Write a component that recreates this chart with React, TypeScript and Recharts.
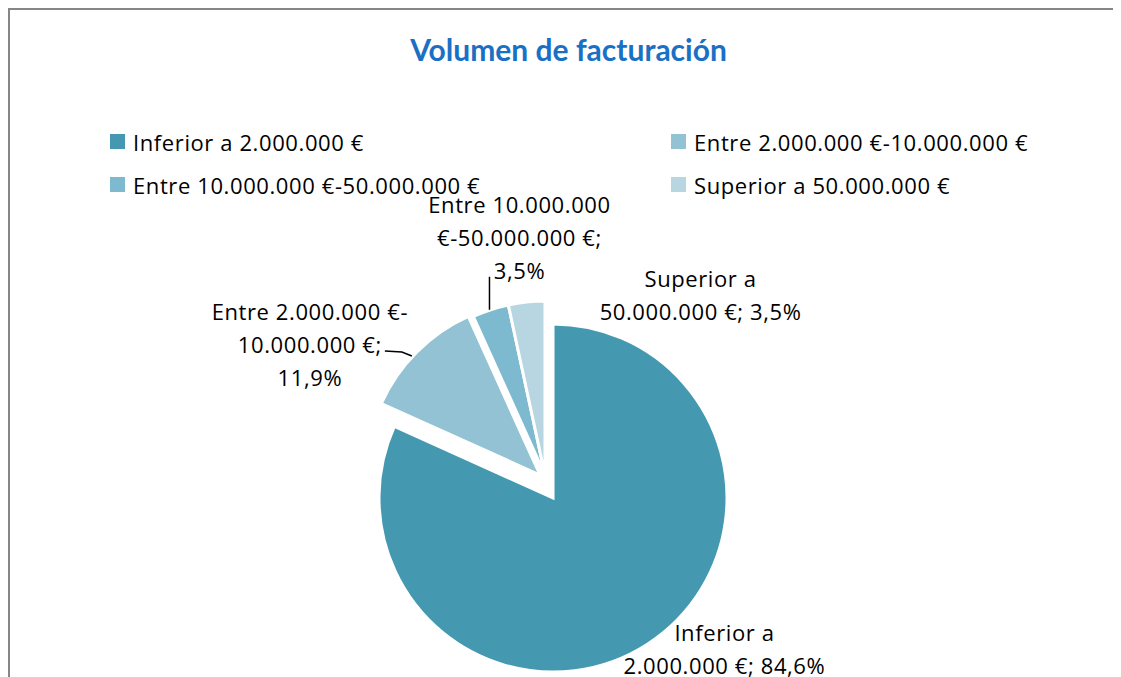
import { PieChart, Pie, Cell, Legend } from 'recharts';

// Volumen de facturación — share of companies by turnover band
const categories = [
  'Inferior a 2.000.000 €',
  'Entre 2.000.000 €-10.000.000 €',
  'Entre 10.000.000 €-50.000.000 €',
  'Superior a 50.000.000 €',
];
const shares = [84.6, 11.9, 3.5, 3.5];
const sliceColors = ['#4499b0', '#93c2d4', '#7db9cf', '#b7d6e2'];
const dataLabels = [
  ['Inferior a', '2.000.000 €; 84,6%'],
  ['Entre 2.000.000 €-', '10.000.000 €;', '11,9%'],
  ['Entre 10.000.000', '€-50.000.000 €;', '3,5%'],
  ['Superior a', '50.000.000 €; 3,5%'],
];

const WIDTH = 1111;
const HEIGHT = 667;
const RADIUS = 174;
// each slice gets its own centre, the first one is pulled out like in the original
const sliceCenters = [
  { x: 543, y: 488 },
  { x: 530, y: 465 },
  { x: 535, y: 465 },
  { x: 535, y: 465 },
];
const FONT = '"Open Sans", sans-serif';
const LINE_H = 33;
const RADIAN = Math.PI / 180;

// label block offset from the slice's outer edge point, plus optional leader line
const labelLayout: { dx: number; dy: number; leader?: number[][] }[] = [
  { dx: 77, dy: 4 },
  { dx: -107, dy: -8, leader: [[-32, -1], [-15, 0], [-5, 4]] },
  { dx: 29, dy: -73, leader: [[-1, -33], [-1, 0]] },
  { dx: 174, dy: -7 },
];

const rows = categories.map((name, i) => ({ name, value: shares[i], fill: sliceColors[i] }));
const total = shares.reduce((a, b) => a + b, 0);
const sliceAngles = shares.map((v, i) => {
  const before = shares.slice(0, i).reduce((a, b) => a + b, 0);
  return { start: 90 - (360 * before) / total, end: 90 - (360 * (before + v)) / total };
});

function renderLabel(props: any) {
  const { cx, cy, midAngle, outerRadius, name } = props;
  const i = categories.indexOf(name);
  const layout = labelLayout[i];
  const ex = cx + outerRadius * Math.cos(-midAngle * RADIAN);
  const ey = cy + outerRadius * Math.sin(-midAngle * RADIAN);
  const lines = dataLabels[i];
  const bx = ex + layout.dx;
  const by = ey + layout.dy;
  return (
    <g>
      {layout.leader && (
        <polyline
          points={layout.leader.map(([px, py]) => `${ex + px},${ey + py}`).join(' ')}
          fill="none"
          stroke="#000"
          strokeWidth={1.5}
        />
      )}
      {lines.map((t, k) => (
        <text
          key={k}
          x={bx}
          y={by + (k - (lines.length - 1) / 2) * LINE_H}
          textAnchor="middle"
          dominantBaseline="central"
          fontFamily={FONT}
          fontSize={22}
          letterSpacing={0.6}
          fill="#000"
        >
          {t}
        </text>
      ))}
    </g>
  );
}

function LegendGrid() {
  return (
    <div
      style={{
        display: 'grid',
        gridTemplateColumns: '561px auto',
        fontFamily: FONT,
        fontSize: 22,
        letterSpacing: 0.6,
        color: '#000',
      }}
    >
      {categories.map((name, i) => (
        <div key={name} style={{ display: 'flex', alignItems: 'center', height: 43 }}>
          <span
            style={{ width: 15, height: 15, background: sliceColors[i], marginRight: 8, flex: 'none' }}
          />
          <span style={{ whiteSpace: 'nowrap' }}>{name}</span>
        </div>
      ))}
    </div>
  );
}

export default function App() {
  return (
    <div
      style={{
        position: 'relative',
        width: 1113,
        height: 669,
        boxSizing: 'border-box',
        borderTop: '2px solid #868686',
        borderLeft: '2px solid #868686',
        overflow: 'hidden',
        background: '#fff',
      }}
    >
      <div
        style={{
          position: 'absolute',
          top: 24,
          left: 3,
          width: WIDTH,
          textAlign: 'center',
          fontFamily: 'Lato, sans-serif',
          fontWeight: 700,
          fontSize: 30,
          lineHeight: '30px',
          color: '#1a70c4',
        }}
      >
        Volumen de facturación
      </div>
      <PieChart width={WIDTH} height={HEIGHT} margin={{ top: 0, right: 0, bottom: 0, left: 0 }}>
        {rows.map((r, i) => (
          <Pie
            key={r.name}
            data={[r]}
            dataKey="value"
            nameKey="name"
            cx={sliceCenters[i].x}
            cy={sliceCenters[i].y}
            outerRadius={RADIUS}
            startAngle={sliceAngles[i].start}
            endAngle={sliceAngles[i].end}
            stroke="#fff"
            strokeWidth={3}
            label={renderLabel}
            labelLine={false}
            isAnimationActive={false}
          >
            <Cell fill={r.fill} />
          </Pie>
        ))}
        <Legend
          content={() => <LegendGrid />}
          wrapperStyle={{ position: 'absolute', top: 110, left: 100, width: 1000 }}
        />
      </PieChart>
    </div>
  );
}
